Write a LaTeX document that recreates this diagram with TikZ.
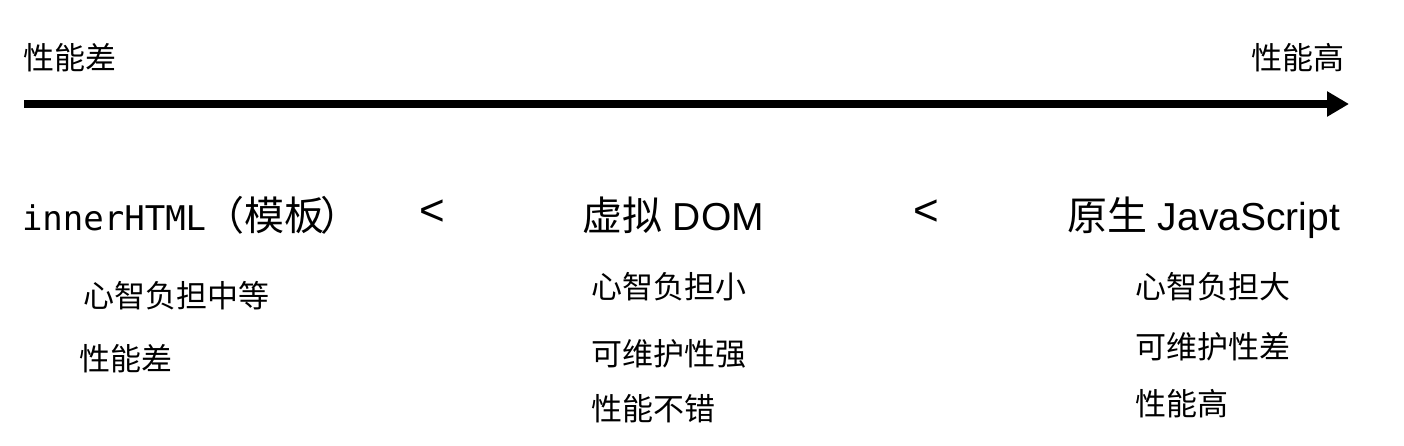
\documentclass[tikz,border=0pt]{standalone}
\usepackage{fontspec}
\newfontfamily\cjk{Noto Sans CJK SC}
\newfontfamily\lat{Liberation Sans}
\newfontfamily\mono{DejaVu Sans Mono}
\usetikzlibrary{arrows.meta}

\newcommand\hcjk{\cjk\fontsize{40}{48}\selectfont}
\newcommand\hlat{\lat\fontsize{39}{46}\selectfont}
\newcommand\hmono{\mono\fontsize{34}{40}\selectfont}

\begin{document}
\begin{tikzpicture}[x=1pt, y=-1pt,
    every node/.style={inner sep=0pt, outer sep=0pt},
    label/.style={anchor=base west, font=\cjk\fontsize{31}{37}\selectfont},
    head/.style={anchor=base west},
    less/.style={font=\lat\fontsize{44}{50}\selectfont}]
  \useasboundingbox (0,0) rectangle (1404,446);

  % scale
  \node[label] (slow) at (23,70) {性能差};
  \node[label, anchor=base east] (fast) at (1344,70) {性能高};
  \coordinate (tail) at (24,104);
  \coordinate (tip) at (1349,104);
  \draw[line width=8pt, -{Triangle[length=22pt,width=24pt]}] (tail) -- (tip);

  % headings
  \node[head] (tpl) at (22,230) {{\hmono innerHTML}{\hcjk \kern-2pt（模板\kern-4pt）}};
  \node[less] (lt1) at (432,213) {<};
  \node[head] (vdom) at (582,230) {{\hcjk 虚拟}\hlat\ DOM};
  \node[less] (lt2) at (926,213) {<};
  \node[head] (js) at (1067,230) {{\hcjk 原生}\hlat\ JavaScript};

  % traits
  \node[label] (tpl-1) at (83,307) {心智负担中等};
  \node[label] (tpl-2) at (79,370) {性能差};

  \node[label] (vdom-1) at (591,298) {心智负担小};
  \node[label] (vdom-2) at (591,365) {可维护性强};
  \node[label] (vdom-3) at (591,420) {性能不错};

  \node[label] (js-1) at (1135,298) {心智负担大};
  \node[label] (js-2) at (1135,358) {可维护性差};
  \node[label] (js-3) at (1135,415) {性能高};
\end{tikzpicture}
\end{document}
